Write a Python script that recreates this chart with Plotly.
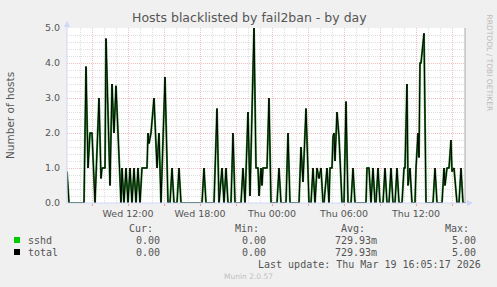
import plotly.graph_objects as go

# ---- data ----
times = [
    "2026-03-18 06:55", "2026-03-18 07:05", "2026-03-18 08:20", "2026-03-18 08:30", "2026-03-18 08:40",
    "2026-03-18 08:50", "2026-03-18 09:00", "2026-03-18 09:15", "2026-03-18 09:35", "2026-03-18 09:45",
    "2026-03-18 09:50", "2026-03-18 10:05", "2026-03-18 10:10", "2026-03-18 10:30", "2026-03-18 10:40",
    "2026-03-18 10:50", "2026-03-18 11:00", "2026-03-18 11:15", "2026-03-18 11:25", "2026-03-18 11:30",
    "2026-03-18 11:40", "2026-03-18 11:50", "2026-03-18 12:00", "2026-03-18 12:10", "2026-03-18 12:20",
    "2026-03-18 12:30", "2026-03-18 12:40", "2026-03-18 12:50", "2026-03-18 13:00", "2026-03-18 13:10",
    "2026-03-18 13:35", "2026-03-18 13:40", "2026-03-18 13:45", "2026-03-18 13:55", "2026-03-18 14:10",
    "2026-03-18 14:25", "2026-03-18 14:35", "2026-03-18 14:45", "2026-03-18 15:05", "2026-03-18 15:20",
    "2026-03-18 15:30", "2026-03-18 15:40", "2026-03-18 15:50", "2026-03-18 16:05", "2026-03-18 16:15",
    "2026-03-18 16:25", "2026-03-18 18:10", "2026-03-18 18:20", "2026-03-18 18:30", "2026-03-18 19:10",
    "2026-03-18 19:25", "2026-03-18 19:35", "2026-03-18 19:50", "2026-03-18 20:00", "2026-03-18 20:10",
    "2026-03-18 20:20", "2026-03-18 20:35", "2026-03-18 20:45", "2026-03-18 20:55", "2026-03-18 21:25",
    "2026-03-18 21:35", "2026-03-18 21:45", "2026-03-18 22:00", "2026-03-18 22:10", "2026-03-18 22:30",
    "2026-03-18 22:40", "2026-03-18 22:50", "2026-03-18 22:55", "2026-03-18 23:05", "2026-03-18 23:10",
    "2026-03-18 23:15", "2026-03-18 23:35", "2026-03-18 23:45", "2026-03-18 23:55",
    "2026-03-19 00:25", "2026-03-19 00:35", "2026-03-19 00:45", "2026-03-19 01:10", "2026-03-19 01:20",
    "2026-03-19 01:30", "2026-03-19 02:15", "2026-03-19 02:25", "2026-03-19 02:35", "2026-03-19 02:50",
    "2026-03-19 03:05", "2026-03-19 03:15", "2026-03-19 03:25", "2026-03-19 03:35", "2026-03-19 03:45",
    "2026-03-19 03:55", "2026-03-19 04:05", "2026-03-19 04:15", "2026-03-19 04:20", "2026-03-19 04:35",
    "2026-03-19 04:45", "2026-03-19 04:50", "2026-03-19 05:00", "2026-03-19 05:05", "2026-03-19 05:10",
    "2026-03-19 05:15", "2026-03-19 05:25", "2026-03-19 05:35", "2026-03-19 05:50", "2026-03-19 06:00",
    "2026-03-19 06:10", "2026-03-19 06:20", "2026-03-19 06:35", "2026-03-19 06:45", "2026-03-19 06:55",
    "2026-03-19 07:50", "2026-03-19 07:55", "2026-03-19 08:05", "2026-03-19 08:15", "2026-03-19 08:25",
    "2026-03-19 08:35", "2026-03-19 08:40", "2026-03-19 08:50", "2026-03-19 09:00", "2026-03-19 09:15",
    "2026-03-19 09:25", "2026-03-19 09:35", "2026-03-19 09:45", "2026-03-19 09:55", "2026-03-19 10:05",
    "2026-03-19 10:15", "2026-03-19 10:25", "2026-03-19 10:35", "2026-03-19 10:50", "2026-03-19 11:00",
    "2026-03-19 11:05", "2026-03-19 11:15", "2026-03-19 11:20", "2026-03-19 11:30", "2026-03-19 11:40",
    "2026-03-19 11:55", "2026-03-19 12:00", "2026-03-19 12:10", "2026-03-19 12:15", "2026-03-19 12:20",
    "2026-03-19 12:25", "2026-03-19 12:40", "2026-03-19 12:50", "2026-03-19 13:25", "2026-03-19 13:35",
    "2026-03-19 13:45", "2026-03-19 14:10", "2026-03-19 14:20", "2026-03-19 14:25", "2026-03-19 14:35",
    "2026-03-19 14:45", "2026-03-19 14:55", "2026-03-19 15:00", "2026-03-19 15:10", "2026-03-19 15:25",
    "2026-03-19 15:35", "2026-03-19 15:45", "2026-03-19 15:55", "2026-03-19 16:05",
]
sshd = [
    0.9, 0, 0, 3.9, 1.0,
    2.0, 2.0, 0, 3.0, 0.7,
    1.0, 1.0, 4.7, 0.5, 3.4,
    2.0, 3.35, 1.0, 0, 1.0,
    0, 1.0, 0, 1.0, 0,
    1.0, 0, 1.0, 0, 1.0,
    1.0, 2.0, 1.7, 2.0, 3.0,
    1.0, 2.0, 0, 3.6, 0,
    0, 1.0, 0, 0, 1.0,
    0, 0, 1.0, 0, 0,
    2.7, 0, 1.0, 0, 1.0,
    0, 0, 2.0, 0, 0,
    1.0, 0, 2.6, 0.2, 5.0,
    1.0, 1.0, 0.2, 1.0, 0.5,
    1.0, 1.0, 3.0, 0,
    0, 1.0, 0, 0, 2.0,
    0, 0, 1.6, 0.6, 2.7,
    0, 0, 1.0, 0, 1.0,
    0.7, 1.0, 0, 0, 1.0,
    0, 1.0, 1.0, 1.9, 2.0,
    1.2, 2.6, 1.9, 0, 0,
    2.9, 0, 0, 1.0, 0,
    0, 1.0, 1.0, 0, 1.0,
    0, 0, 1.0, 0, 0,
    1.0, 0, 0, 1.0, 0,
    0, 1.0, 0, 0, 1.0,
    1.0, 3.4, 0.5, 1.0, 0,
    0, 1.0, 2.0, 1.3, 4.0,
    4.0, 4.85, 0, 0, 1.0,
    0, 0, 1.0, 0.5, 1.0,
    1.0, 1.8, 0.9, 1.0, 0,
    0, 1.0, 0, 0,
]
total = list(sshd)  # total equals sshd (single jail)

series_names = ["sshd", "total"]
series_colors = ["#00CC00", "#000000"]
stat_headers = ["Cur:", "Min:", "Avg:", "Max:"]
stats = {
    "sshd": ["0.00", "0.00", "729.93m", "5.00"],
    "total": ["0.00", "0.00", "729.93m", "5.00"],
}
tick_vals = ["2026-03-18 09:00", "2026-03-18 12:00", "2026-03-18 15:00", "2026-03-18 18:00",
             "2026-03-18 21:00", "2026-03-19 00:00", "2026-03-19 03:00", "2026-03-19 06:00",
             "2026-03-19 09:00", "2026-03-19 12:00", "2026-03-19 15:00"]
tick_text = ["", "Wed 12:00", "", "Wed 18:00", "", "Thu 00:00", "", "Thu 06:00", "", "Thu 12:00", ""]
x_range = ["2026-03-18 06:55", "2026-03-19 16:05"]

title = "Hosts blacklisted by fail2ban - by day"
y_title = "Number of hosts"
last_update = "Last update: Thu Mar 19 16:05:17 2026"
footer = "Munin 2.0.57"
side_text = "RRDTOOL / TOBI OETIKER"

# ---- layout geometry (pixels) ----
W, H = 497, 287
L, R, T, B = 67, 465, 28, 203


def px(x):
    return (x - L) / (R - L)


def py(y):
    return (B - y) / (B - T)


FONT = "DejaVu Sans"
MONO = "DejaVu Sans Mono"
TXT = "#555555"

fig = go.Figure()
fig.add_trace(go.Scatter(x=times, y=sshd, mode="lines", name="sshd",
                         line=dict(color="#2E8B2E", width=2), hoverinfo="skip"))
fig.add_trace(go.Scatter(x=times, y=total, mode="lines", name="total",
                         line=dict(color=series_colors[1], width=1), hoverinfo="skip"))

ann = []
ann.append(dict(text=title, x=px(249), y=py(18), xref="paper", yref="paper", showarrow=False,
                xanchor="center", yanchor="middle", font=dict(family=FONT, size=12.5, color=TXT)))
ann.append(dict(text=y_title, x=px(10), y=py(115), xref="paper", yref="paper", showarrow=False,
                textangle=-90, xanchor="center", yanchor="middle",
                font=dict(family=FONT, size=10.5, color=TXT)))
ann.append(dict(text=side_text, x=px(489), y=py(12), xref="paper", yref="paper", showarrow=False,
                textangle=90, xanchor="center", yanchor="top",
                font=dict(family=FONT, size=7.5, color="#bbbbbb")))

hdr_right = [154, 260, 366, 470]
val_right = [161, 267, 378, 477]
for h, xr in zip(stat_headers, hdr_right):
    ann.append(dict(text=h, x=px(xr + 1), y=py(228), xref="paper", yref="paper", showarrow=False,
                    xanchor="right", yanchor="middle", font=dict(family=MONO, size=10, color=TXT)))
rows_y = [240, 252]
for name, col, yy in zip(series_names, series_colors, rows_y):
    ann.append(dict(text=name, x=px(26), y=py(yy), xref="paper", yref="paper", showarrow=False,
                    xanchor="left", yanchor="middle", font=dict(family=MONO, size=10, color=TXT)))
    for v, xr in zip(stats[name], val_right):
        ann.append(dict(text=v, x=px(xr + 1), y=py(yy), xref="paper", yref="paper", showarrow=False,
                        xanchor="right", yanchor="middle", font=dict(family=MONO, size=10, color=TXT)))
ann.append(dict(text=last_update, x=px(483), y=py(264), xref="paper", yref="paper", showarrow=False,
                xanchor="right", yanchor="middle", font=dict(family=MONO, size=10, color=TXT)))
ann.append(dict(text=footer, x=px(248), y=py(276), xref="paper", yref="paper", showarrow=False,
                xanchor="center", yanchor="middle", font=dict(family=FONT, size=7.5, color="#c0c0c0")))

shapes = []
# legend colour squares
for col, yy in zip(series_colors, rows_y):
    shapes.append(dict(type="rect", xref="paper", yref="paper", x0=px(14), x1=px(20),
                       y0=py(yy + 3), y1=py(yy - 3), fillcolor=col, line=dict(width=0)))
AX = "#CFD6F8"
# axis lines + arrows
shapes.append(dict(type="line", xref="paper", yref="paper", x0=px(67), x1=px(67), y0=py(203), y1=py(22),
                   line=dict(color=AX, width=1)))
shapes.append(dict(type="path", xref="paper", yref="paper",
                   path=f"M {px(64)},{py(27)} L {px(70)},{py(27)} L {px(67)},{py(21)} Z",
                   fillcolor=AX, line=dict(color=AX, width=0)))
shapes.append(dict(type="line", xref="paper", yref="paper", x0=px(67), x1=px(471), y0=py(203), y1=py(203),
                   line=dict(color=AX, width=1)))
shapes.append(dict(type="path", xref="paper", yref="paper",
                   path=f"M {px(467)},{py(200)} L {px(467)},{py(206)} L {px(473)},{py(203)} Z",
                   fillcolor=AX, line=dict(color=AX, width=0)))
# right frame line
shapes.append(dict(type="line", xref="paper", yref="paper", x0=1, x1=1, y0=py(203), y1=py(28),
                   line=dict(color="#a8a8a8", width=1)))

MAJ = "#F0C0C0"
MIN = "#DEDEDE"
fig.update_layout(
    width=W, height=H,
    margin=dict(l=L, r=W - R, t=T, b=H - B, pad=0),
    paper_bgcolor="#F0F0F0", plot_bgcolor="#FFFFFF",
    showlegend=False,
    annotations=ann, shapes=shapes,
    xaxis=dict(type="date", range=x_range, tickmode="array", tickvals=tick_vals, ticktext=tick_text,
               showgrid=True, gridcolor=MAJ, griddash="1px,1px", gridwidth=1,
               ticks="outside", ticklen=2, tickcolor="#EDA0A0",
               tickfont=dict(family=FONT, size=9.5, color=TXT),
               minor=dict(dtick=3600000, tick0="2026-03-18 00:00", showgrid=True,
                          gridcolor=MIN, griddash="1px,1px", gridwidth=1),
               showline=False, zeroline=False, fixedrange=True),
    yaxis=dict(range=[0, 5], tickmode="linear", tick0=0, dtick=1, tickformat=".1f",
               showgrid=True, gridcolor=MAJ, griddash="1px,1px", gridwidth=1,
               ticks="", ticklen=0, ticklabelstandoff=6,
               tickfont=dict(family=FONT, size=9.5, color=TXT),
               minor=dict(dtick=0.2, tick0=0, showgrid=True, gridcolor=MIN,
                          griddash="1px,1px", gridwidth=1),
               showline=False, zeroline=False, fixedrange=True),
)

fig.write_html("out.html", config={"displayModeBar": False})
